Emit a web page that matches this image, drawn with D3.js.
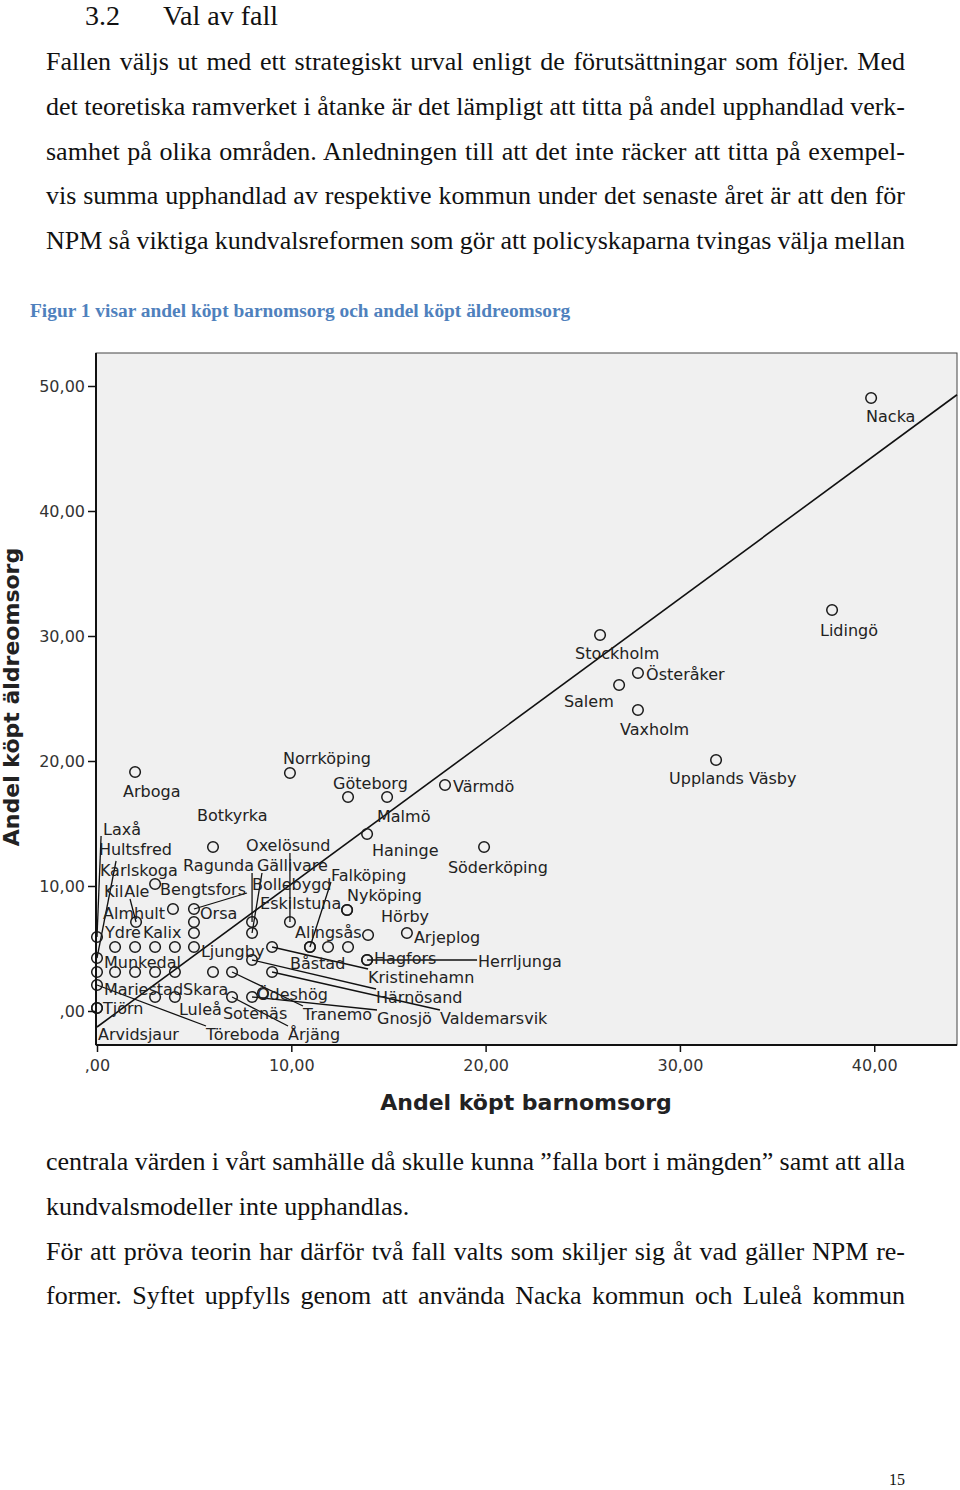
<!DOCTYPE html>
<html><head><meta charset="utf-8">
<script src="https://cdn.jsdelivr.net/npm/d3@7"></script>
<style>body{margin:0;background:#fff}svg{display:block}</style>
</head><body><svg id="page" width="960" height="1490"></svg>
<script>
// ---------- DATA ----------
const xTicks = [0, 10, 20, 30, 40];
const xTickLabels = [",00", "10,00", "20,00", "30,00", "40,00"];
const yTicks = [0, 10, 20, 30, 40, 50];
const yTickLabels = [",00", "10,00", "20,00", "30,00", "40,00", "50,00"];
const xTitle = "Andel köpt barnomsorg";
const yTitle = "Andel köpt äldreomsorg";

const kommuner = ["Nacka","Lidingö","Stockholm","Österåker","Salem","Vaxholm","Upplands Väsby","Norrköping","Arboga","Göteborg",
  "Malmö","Värmdö","Haninge","Söderköping","Botkyrka","Kil","Ale","Bengtsfors","Almhult","Orsa",
  "Ydre","Munkedal","Kalix","","Ljungby","","Ragunda","Gällivare","Oxelösund","Falköping",
  "Bollebygd","Kristinehamn","Båstad","Alingsås","Eskilstuna","Nyköping","Hörby","Arjeplog","Hagfors","Herrljunga",
  "Härnösand","Mariestad","","","Skara","Sotenäs","Tranemo","Valdemarsvik","","Luleå",
  "Årjäng","Gnosjö","Ödeshög","Laxå","Karlskoga","Hultsfred","Töreboda","Tjörn","Arvidsjaur"];
const barnomsorg = [39.84,37.83,25.89,27.84,26.87,27.84,31.86,9.93,1.96,12.92,
  14.93,17.91,13.90,19.92,5.97,2.99,2.01,4.99,3.91,4.99,
  0.93,1.96,2.99,4.01,4.99,4.99,7.98,7.98,9.93,10.96,
  10.96,9.01,11.89,12.92,12.87,12.87,13.95,15.95,13.90,13.90,
  7.98,0.93,1.96,2.99,4.01,5.97,6.95,9.01,2.99,4.01,
  6.95,7.98,8.54,0,0,0,0,0,0];
const aldreomsorg = [49.04,32.08,30.08,27.04,26.08,24.08,20.08,19.04,19.12,17.12,
  17.12,18.08,14.16,13.12,13.12,10.16,7.12,8.16,8.16,7.12,
  5.12,5.12,5.12,5.12,5.12,6.24,7.12,6.24,7.12,5.12,
  5.12,5.12,5.12,5.12,8.08,8.08,6.08,6.24,4.08,4.08,
  4.08,3.12,3.12,3.12,3.12,3.12,3.12,3.12,1.12,1.12,
  1.12,1.12,1.44,5.92,4.24,3.12,2.08,0.24,0.24];
// label anchor (data units, left edge / middle)
const labelX = [39.58,37.21,24.60,28.26,24.03,26.92,29.44,9.57,1.34,12.15,
  14.41,18.32,14.15,18.06,5.15,0.36,1.40,3.24,0.31,5.30,
  0.41,0.36,2.37,0,5.35,0,4.43,8.23,7.67,12.04,
  7.98,13.95,9.93,10.19,8.39,12.87,14.62,16.31,14.26,19.61,
  14.36,0.36,0,0,4.43,6.48,10.60,17.65,0,4.22,
  9.83,14.41,8.23,0.31,0.15,0.10,5.61,0.31,0.05];
const labelY = [47.60,30.48,28.64,26.96,24.80,22.56,18.64,20.24,17.60,18.24,
  15.60,18.00,12.88,11.52,15.68,9.60,9.60,9.76,7.84,7.84,
  6.32,3.92,6.32,0,4.80,0,11.68,11.68,13.28,10.88,
  10.16,2.72,3.84,6.32,8.64,9.28,7.60,5.92,4.24,4.00,
  1.12,1.76,0,0,1.76,-0.16,-0.24,-0.56,0,0.16,
  -1.84,-0.56,1.36,14.56,11.28,12.96,-1.84,0.24,-1.84];
// leader lines: kommun, end x, end y (data units)
const leaders = [
  ["Ale",1.70,8.96],["Bengtsfors",7.72,9.44],["Ragunda",7.98,11.04],["Gällivare",8.49,11.04],
  ["Oxelösund",9.93,12.64],["Falköping",12.04,10.32],["Kristinehamn",13.95,3.36],["Herrljunga",19.56,4.08],
  ["Härnösand",14.36,1.76],["Tranemo",10.60,0.40],["Valdemarsvik",17.65,0.08],["Årjäng",9.83,-1.20],
  ["Gnosjö",14.41,0.08],["Laxå",0.21,14.00],["Karlskoga",0.98,12.00],["Töreboda",5.61,-1.20]
];
const fitLine = [[0, -1.28], [44.26, 49.3]];

const heading = ["3.2", "Val av fall"];
const paraTop = [
  "Fallen väljs ut med ett strategiskt urval enligt de förutsättningar som följer. Med",
  "det teoretiska ramverket i åtanke är det lämpligt att titta på andel upphandlad verk-",
  "samhet på olika områden. Anledningen till att det inte räcker att titta på exempel-",
  "vis summa upphandlad av respektive kommun under det senaste året är att den för",
  "NPM så viktiga kundvalsreformen som gör att policyskaparna tvingas välja mellan"];
const caption = "Figur 1 visar andel köpt barnomsorg och andel köpt äldreomsorg";
const paraBottom = [
  ["centrala värden i vårt samhälle då skulle kunna ”falla bort i mängden” samt att alla", true],
  ["kundvalsmodeller inte upphandlas.", false],
  ["För att pröva teorin har därför två fall valts som skiljer sig åt vad gäller NPM re-", true],
  ["former. Syftet uppfylls genom att använda Nacka kommun och Luleå kommun", true]];
const pageNo = "15";

// ---------- DRAW ----------
const svg = d3.select("#page");
const serif = "'Liberation Serif','Times New Roman',serif";
const sans = "'DejaVu Sans',sans-serif";

// heading
svg.append("text").attr("x",85).attr("y",25).attr("font-family",serif).attr("font-size",28).attr("fill","#111").text(heading[0]);
svg.append("text").attr("x",163).attr("y",25).attr("font-family",serif).attr("font-size",28).attr("fill","#111").text(heading[1]);

function justifyLine(sel, target){
  const n = sel.node();
  const nat = n.getComputedTextLength();
  const spaces = (sel.text().match(/ /g)||[]).length;
  if (spaces>0) sel.style("word-spacing", ((target-nat)/spaces)+"px");
}
const topBase = [70,115,160,204,249];
paraTop.forEach((t,i)=>{
  const s = svg.append("text").attr("x",46).attr("y",topBase[i]).attr("font-family",serif).attr("font-size",26).attr("fill","#111").text(t);
  justifyLine(s, 859);
});
svg.append("text").attr("x",30).attr("y",317).attr("font-family",serif).attr("font-size",19.4).attr("font-weight","bold").attr("fill","#4f81bd").text(caption);

const botBase = [1170,1215,1260,1304];
paraBottom.forEach((p,i)=>{
  const s = svg.append("text").attr("x",46).attr("y",botBase[i]).attr("font-family",serif).attr("font-size",26).attr("fill","#111").text(p[0]);
  if (p[1]) justifyLine(s, 859);
});
svg.append("text").attr("x",905).attr("y",1485).attr("text-anchor","end").attr("font-family",serif).attr("font-size",16).attr("fill","#111").text(pageNo);

// chart
const x = d3.scaleLinear().domain([0,44.26]).range([97,957]);
const y = d3.scaleLinear().domain([-2.72,52.64]).range([1045,353]);

svg.append("rect").attr("x",96).attr("y",353).attr("width",861).attr("height",692)
  .attr("fill","#f0f0f0").attr("stroke","#444").attr("stroke-width",1);

const plot = svg.append("g");
plot.append("line").attr("x1",x(fitLine[0][0])).attr("y1",y(fitLine[0][1]))
  .attr("x2",x(fitLine[1][0])).attr("y2",y(fitLine[1][1]))
  .attr("stroke","#111").attr("stroke-width",1.6);

const pts = kommuner.map((k,i)=>({k, bx:barnomsorg[i], ay:aldreomsorg[i], lx:labelX[i], ly:labelY[i]}));
const byName = new Map(pts.filter(p=>p.k).map(p=>[p.k,p]));

plot.selectAll("line.leader").data(leaders).join("line").attr("class","leader")
  .attr("x1",d=>x(byName.get(d[0]).bx)).attr("y1",d=>y(byName.get(d[0]).ay))
  .attr("x2",d=>x(d[1])).attr("y2",d=>y(d[2]))
  .attr("stroke","#111").attr("stroke-width",1.3);

plot.selectAll("circle").data(pts).join("circle")
  .attr("cx",d=>x(d.bx)).attr("cy",d=>y(d.ay)).attr("r",5.3)
  .attr("fill","none").attr("stroke","#1a1a1a").attr("stroke-width",1.5);

plot.selectAll("text.lbl").data(pts.filter(p=>p.k)).join("text").attr("class","lbl")
  .attr("x",d=>x(d.lx)).attr("y",d=>y(d.ly)).attr("dy","0.36em")
  .attr("font-family",sans).attr("font-size",16).attr("fill","#222").text(d=>d.k);

// axes
const yAxis = d3.axisLeft(y).tickValues(yTicks).tickFormat((d,i)=>yTickLabels[i]).tickSize(8).tickSizeOuter(0).tickPadding(3);
const gy = svg.append("g").attr("transform","translate(96,0)").call(yAxis);
const xAxis = d3.axisBottom(x).tickValues(xTicks).tickFormat((d,i)=>xTickLabels[i]).tickSize(7).tickSizeOuter(0).tickPadding(8);
const gx = svg.append("g").attr("transform","translate(0,1045)").call(xAxis);
[gx,gy].forEach(g=>{
  g.select(".domain").attr("stroke","#111").attr("stroke-width",2);
  g.selectAll(".tick line").attr("stroke","#111").attr("stroke-width",1.5);
  g.selectAll(".tick text").attr("font-family",sans).attr("font-size",16).attr("fill","#333");
});
gy.select(".domain").attr("d","M0,353V1045");
gx.select(".domain").attr("d","M96,0H957");

svg.append("text").attr("x",526).attr("y",1110).attr("text-anchor","middle")
  .attr("font-family",sans).attr("font-weight","bold").attr("font-size",22).attr("fill","#222").text(xTitle);
svg.append("text").attr("transform","translate(19,697) rotate(-90)").attr("text-anchor","middle")
  .attr("font-family",sans).attr("font-weight","bold").attr("font-size",22).attr("fill","#222").text(yTitle);
</script></body></html>
